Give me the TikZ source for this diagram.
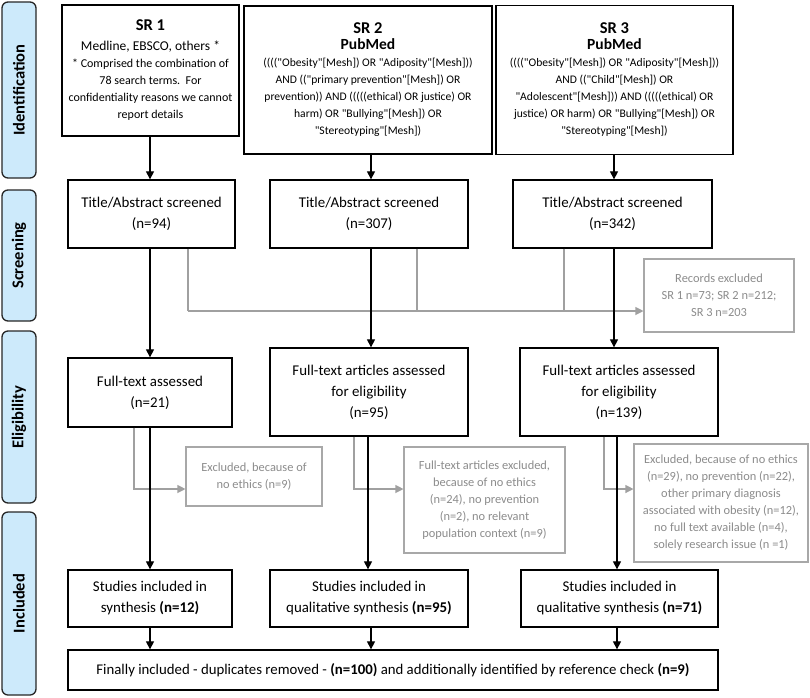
\documentclass[tikz,border=0pt]{standalone}
\usepackage{fontspec}
\setmainfont{Carlito}
\newfontfamily\qfont{Carlito}
\usetikzlibrary{arrows.meta}
\definecolor{sidefill}{HTML}{CDEAFB}
\definecolor{glinec}{HTML}{A0A0A0}
\definecolor{gtext}{HTML}{8C8C8C}
\definecolor{gbord}{HTML}{A8A8A8}
\tikzset{
 box/.style={draw=black, line width=1.3pt, fill=white, inner sep=0pt, align=center, font=\fontsize{14.9}{21}\selectfont},
 srbox/.style={box, font=\fontsize{12}{17}\selectfont},
 qbox/.style={box, font=\qfont\fontsize{11.6}{17}\selectfont},
 gbox/.style={draw=gbord, line width=1.1pt, fill=white, inner sep=0pt, align=center, text=gtext, font=\fontsize{12.4}{17}\selectfont},
 arr/.style={draw=black, line width=1.1pt, -{Triangle[width=8pt,length=8pt]}},
 garr/.style={draw=glinec, line width=1.1pt, -{Triangle[width=8pt,length=8pt]}},
 gln/.style={draw=glinec, line width=1.1pt},
 sidebox/.style={draw=black!85, line width=1.3pt, fill=sidefill, rounded corners=6pt, rotate=90, inner sep=0pt, font=\fontsize{16.5}{16}\selectfont\bfseries},
}
\begin{document}
\begin{tikzpicture}[x=1pt,y=-1pt]
\path[use as bounding box] (0,0) rectangle (810,697);
% sidebars
\node[sidebox, minimum width=176pt, minimum height=34pt] (sid) at (19,90) {Identification};
\node[sidebox, minimum width=131pt, minimum height=34pt] (ssc) at (19,255.5) {Screening};
\node[sidebox, minimum width=172pt, minimum height=34pt] (sel) at (19,417) {Eligibility};
\node[sidebox, minimum width=183pt, minimum height=34pt] (sin) at (19,603.5) {Included};
% identification
\node[srbox, minimum width=177pt, minimum height=131pt] (sr1) at (150.5,70.5) {{\fontsize{16.5}{20}\selectfont\bfseries SR 1}\\[3pt]
{\fontsize{13.5}{17}\selectfont Medline, EBSCO, others *}\\
* Comprised the combination of\\
78 search terms.\ \ For\\
confidentiality reasons we cannot\\
report details};
\node[qbox, minimum width=248pt, minimum height=148pt] (sr2) at (368,80) {{\fontsize{16.5}{20}\selectfont\bfseries SR 2}\\[-1pt]
{\fontsize{15.5}{17}\selectfont\bfseries PubMed}\\
(((("Obesity"[Mesh]) OR "Adiposity"[Mesh]))\\
AND (("primary prevention"[Mesh]) OR\\
prevention)) AND (((((ethical) OR justice) OR\\
harm) OR "Bullying"[Mesh]) OR\\
"Stereotyping"[Mesh])};
\node[qbox, minimum width=237pt, minimum height=149pt] (sr3) at (614.5,80) {{\fontsize{16.5}{20}\selectfont\bfseries SR 3}\\[-1pt]
{\fontsize{15.5}{17}\selectfont\bfseries PubMed}\\
(((("Obesity"[Mesh]) OR "Adiposity"[Mesh]))\\
AND (("Child"[Mesh]) OR\\
"Adolescent"[Mesh])) AND (((((ethical) OR\\
justice) OR harm) OR "Bullying"[Mesh]) OR\\
"Stereotyping"[Mesh])};
% screening
\node[box, minimum width=167pt, minimum height=68pt] (t1) at (151.5,214) {Title/Abstract screened\\(n=94)};
\node[box, minimum width=198pt, minimum height=68pt] (t2) at (369,214) {Title/Abstract screened\\(n=307)};
\node[box, minimum width=199pt, minimum height=68pt] (t3) at (612.5,214) {Title/Abstract screened\\(n=342)};
\node[gbox, minimum width=150pt, minimum height=73pt] (rex) at (719,295.5) {Records excluded\\SR 1 n=73; SR 2 n=212;\\SR 3 n=203};
% eligibility
\node[box, minimum width=164pt, minimum height=69pt] (f1) at (150,392.5) {Full-text assessed\\(n=21)};
\node[box, minimum width=198pt, minimum height=88pt] (f2) at (369,392) {Full-text articles assessed\\for eligibility\\(n=95)};
\node[box, minimum width=198pt, minimum height=88pt] (f3) at (619,392) {Full-text articles assessed\\for eligibility\\(n=139)};
\node[gbox, minimum width=136pt, minimum height=59pt] (e1) at (254,476.5) {Excluded, because of\\no ethics (n=9)};
\node[gbox, minimum width=161pt, minimum height=106pt] (e2) at (484.5,500) {Full-text articles excluded,\\because of no ethics\\(n=24), no prevention\\(n=2), no relevant\\population context (n=9)};
\node[gbox, minimum width=174pt, minimum height=118pt] (e3) at (721,503) {Excluded, because of no ethics\\(n=29), no prevention (n=22),\\other primary diagnosis\\associated with obesity (n=12),\\no full text available (n=4),\\solely research issue (n =1)};
% included
\node[box, minimum width=164pt, minimum height=57pt] (s1) at (150,598.5) {Studies included in\\synthesis \textbf{(n=12)}};
\node[box, minimum width=198pt, minimum height=57pt] (s2) at (369,598.5) {Studies included in\\qualitative synthesis \textbf{(n=95)}};
\node[box, minimum width=197pt, minimum height=57pt] (s3) at (619.5,598.5) {Studies included in\\qualitative synthesis \textbf{(n=71)}};
\node[box, minimum width=650pt, minimum height=40pt, font=\fontsize{14.8}{21}\selectfont] (fin) at (393,670) {Finally included - duplicates removed - \textbf{(n=100)} and additionally identified by reference check \textbf{(n=9)}};
% column coordinates
\coordinate (c1) at (150,0);
\coordinate (c2) at (371,0);
\coordinate (c2b) at (368,0);
\coordinate (c3) at (614,0);
\coordinate (c3b) at (617,0);
\coordinate (g1) at (188,0);
\coordinate (g2) at (417,0);
\coordinate (g3) at (564,0);
\coordinate (h1) at (0,311);
\coordinate (k1) at (134,0);
\coordinate (k2) at (354,0);
\coordinate (k3) at (604,0);
\coordinate (h2) at (0,489);
% grey connectors (screening)
\draw[gln] (t1.south -| g1) -- (g1 |- h1);
\draw[gln] (t2.south -| g2) -- (g2 |- h1);
\draw[gln] (t3.south -| g3) -- (g3 |- h1);
\draw[garr] (g1 |- h1) -- (rex.west |- h1);
% grey connectors (eligibility)
\draw[garr] (f1.south -| k1) -- (k1 |- h2) -- (e1.west |- h2);
\draw[garr] (f2.south -| k2) -- (k2 |- h2) -- (e2.west |- h2);
\draw[garr] (f3.south -| k3) -- (k3 |- h2) -- (e3.west |- h2);
% black arrows
\draw[arr] (sr1.south -| c1) -- (t1.north -| c1);
\draw[arr] (sr2.south -| c2) -- (t2.north -| c2);
\draw[arr] (sr3.south -| c3) -- (t3.north -| c3);
\draw[arr] (t1.south -| c1) -- (f1.north -| c1);
\draw[arr] (t2.south -| c2) -- (f2.north -| c2);
\draw[arr] (t3.south -| c3) -- (f3.north -| c3);
\draw[arr] (f1.south -| c1) -- (s1.north -| c1);
\draw[arr] (f2.south -| c2b) -- (s2.north -| c2b);
\draw[arr] (f3.south -| c3b) -- (s3.north -| c3b);
\draw[arr] (s1.south -| c1) -- (fin.north -| c1);
\draw[arr] (s2.south -| c2) -- (fin.north -| c2);
\draw[arr] (s3.south -| c3b) -- (fin.north -| c3b);
\end{tikzpicture}
\end{document}
